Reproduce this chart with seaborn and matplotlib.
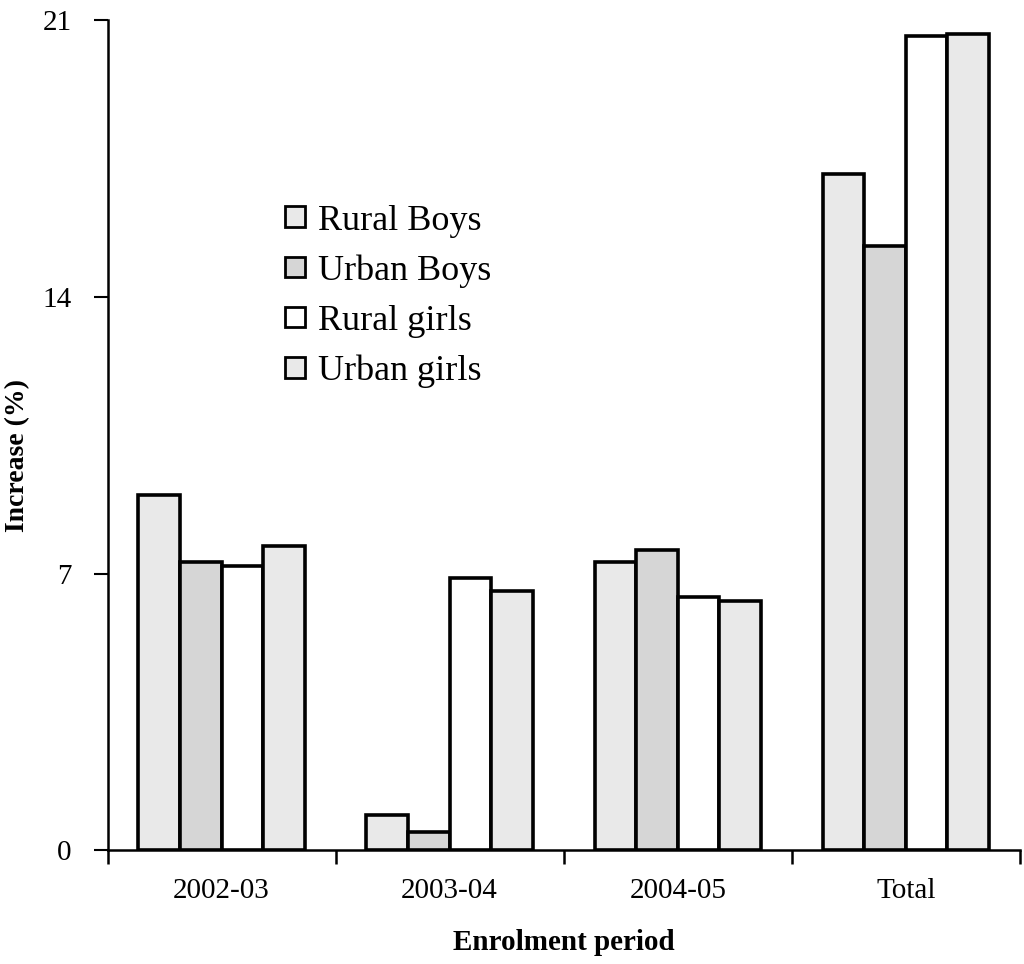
import matplotlib
matplotlib.use("Agg")
import matplotlib.pyplot as plt
from matplotlib.ticker import FixedLocator
import seaborn as sns
import pandas as pd

periods = ["2002-03", "2003-04", "2004-05", "Total"]
groups = ["Rural Boys", "Urban Boys", "Rural girls", "Urban girls"]
rural_boys = [9.0, 0.9, 7.3, 17.1]
urban_boys = [7.3, 0.45, 7.6, 15.3]
rural_girls = [7.2, 6.9, 6.4, 20.6]
urban_girls = [7.7, 6.55, 6.3, 20.65]
y_ticks = [0, 7, 14, 21]

series = [rural_boys, urban_boys, rural_girls, urban_girls]
df = pd.DataFrame(
    [(p, g, v) for g, vals in zip(groups, series) for p, v in zip(periods, vals)],
    columns=["period", "group", "value"],
)

sns.set_theme(style="white")
plt.rcParams["font.family"] = ["Liberation Serif", "DejaVu Serif"]
plt.rcParams.update({"text.color": "black", "axes.labelcolor": "black",
                     "xtick.color": "black", "ytick.color": "black"})

palette = {"Rural Boys": "#e9e9e9", "Urban Boys": "#d6d6d6",
           "Rural girls": "#ffffff", "Urban girls": "#e9e9e9"}

fig = plt.figure(figsize=(10.24, 9.64), dpi=100)
ax = fig.add_axes([0.105, 0.118, 0.891, 0.861])

sns.barplot(data=df, x="period", y="value", hue="group", order=periods,
            hue_order=groups, palette=palette, edgecolor="black",
            linewidth=2.6, width=0.73, gap=0, ax=ax)

ax.set_xlim(-0.5, 3.5)
ax.set_ylim(0, 21)
ax.set_yticks(y_ticks)
ax.set_yticklabels([str(t) for t in y_ticks], fontsize=21)

# category labels centred, tick marks on the boundaries between groups
ax.set_xticks(range(len(periods)))
ax.set_xticklabels(periods, fontsize=21)
ax.xaxis.set_minor_locator(FixedLocator([-0.5, 0.5, 1.5, 2.5, 3.5]))
ax.tick_params(axis="x", which="major", length=0, pad=20, labelcolor="black")
ax.tick_params(axis="x", which="minor", direction="out", length=10,
               width=1.8, color="black", bottom=True)
ax.tick_params(axis="y", direction="out", length=10, width=1.5,
               color="black", left=True, pad=16, labelcolor="black")

for side in ("top", "right"):
    ax.spines[side].set_visible(False)
for side in ("left", "bottom"):
    ax.spines[side].set_color("black")
    ax.spines[side].set_linewidth(1.8)

ax.set_xlabel("Enrolment period", fontsize=21, fontweight="bold", labelpad=18,
              color="black")
ax.set_ylabel("Increase (%)", fontsize=20, fontweight="bold", color="black")
ax.yaxis.set_label_coords(-0.085, 0.475)

leg = ax.legend(loc="upper left", bbox_to_anchor=(0.195, 0.778), frameon=False,
                fontsize=26, handlelength=0.55, handleheight=0.5,
                handletextpad=0.35, labelspacing=0.47, borderaxespad=0,
                borderpad=0, labelcolor="black")
for h in leg.legend_handles:
    h.set_linewidth(2.0)
    h.set_edgecolor("black")

fig.savefig("out.png", dpi=100, facecolor="white")
